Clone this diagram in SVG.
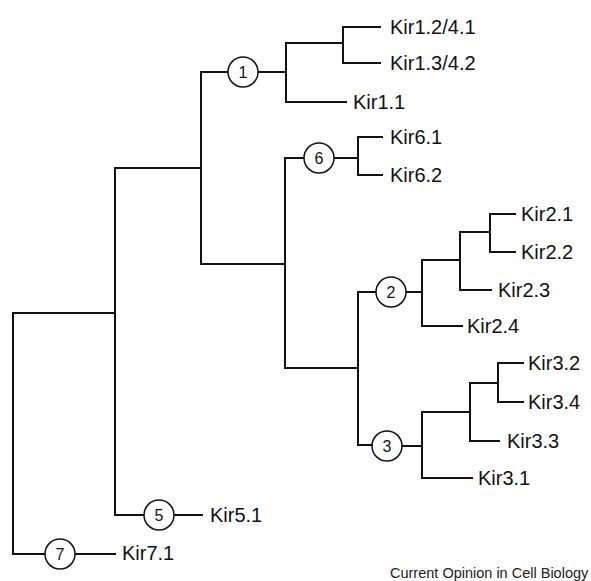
<svg xmlns="http://www.w3.org/2000/svg" width="591" height="581" viewBox="0 0 591 581">
<style>
.ln{fill:none;stroke:#111;stroke-width:2;stroke-linecap:square}
.lbl{font-family:"Liberation Sans",Arial,sans-serif;font-size:20px;fill:#111}
.num{font-family:"Liberation Sans",Arial,sans-serif;font-size:16px;fill:#111;text-anchor:middle}
.cir{fill:#fff;stroke:#111;stroke-width:1.5}
.foot{font-family:"Liberation Sans",Arial,sans-serif;font-size:14.5px;fill:#222}
</style>
<rect width="591" height="581" fill="#fff"/>
<g id="connectors">
<path class="ln" d="M13 313V554H45M75 554H115M13 313H115M115 168V515H144M174 515H202"/>
<path class="ln" d="M115 168H201V264H285M201 72V168M201 72H228M258 72H286V102H346M286 72V43H343V27H380M343 43V63H380"/>
<path class="ln" d="M285 158V368H358M285 158H304M334 158H358V137H382M358 158V175H382"/>
<path class="ln" d="M358 292V445H372M358 292H376M406 292H422V326H462M422 292V260H460V290H491M460 260V232H490V214H515M490 232V252H515"/>
<path class="ln" d="M402 446H422V478H472M422 446V412H470V441H499M470 412V383H498V363H523M498 383V402H523"/>
</g>
<g id="n7"><circle class="cir" cx="60" cy="554" r="15"/><text class="num" x="60" y="560">7</text></g>
<g id="n5"><circle class="cir" cx="159" cy="515" r="15"/><text class="num" x="159" y="521">5</text></g>
<g id="n1"><circle class="cir" cx="243" cy="72" r="15"/><text class="num" x="243" y="78">1</text></g>
<g id="n6"><circle class="cir" cx="319" cy="158" r="15"/><text class="num" x="319" y="164">6</text></g>
<g id="n2"><circle class="cir" cx="391" cy="292" r="15"/><text class="num" x="391" y="298">2</text></g>
<g id="n3"><circle class="cir" cx="387" cy="446" r="15"/><text class="num" x="387" y="452">3</text></g>
<g id="kir12"><text class="lbl" x="390" y="34">Kir1.2/4.1</text></g>
<g id="kir13"><text class="lbl" x="390" y="70">Kir1.3/4.2</text></g>
<g id="kir11"><text class="lbl" x="353" y="109">Kir1.1</text></g>
<g id="kir61"><text class="lbl" x="390" y="144">Kir6.1</text></g>
<g id="kir62"><text class="lbl" x="390" y="182">Kir6.2</text></g>
<g id="kir21"><text class="lbl" x="521" y="221">Kir2.1</text></g>
<g id="kir22"><text class="lbl" x="521" y="259">Kir2.2</text></g>
<g id="kir23"><text class="lbl" x="498" y="297">Kir2.3</text></g>
<g id="kir24"><text class="lbl" x="467" y="333">Kir2.4</text></g>
<g id="kir32"><text class="lbl" x="528" y="370">Kir3.2</text></g>
<g id="kir34"><text class="lbl" x="528" y="409">Kir3.4</text></g>
<g id="kir33"><text class="lbl" x="507" y="448">Kir3.3</text></g>
<g id="kir31"><text class="lbl" x="478" y="485">Kir3.1</text></g>
<g id="kir51"><text class="lbl" x="210" y="522">Kir5.1</text></g>
<g id="kir71"><text class="lbl" x="122" y="560">Kir7.1</text></g>
<text class="foot" x="390" y="578">Current Opinion in Cell Biology</text>
</svg>
